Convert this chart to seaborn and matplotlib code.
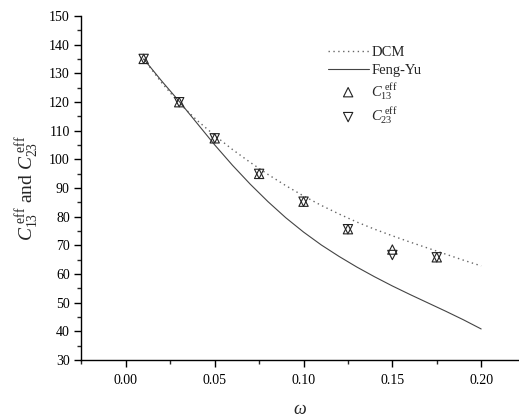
import numpy as np
import pandas as pd
import matplotlib
matplotlib.use("Agg")
import matplotlib.pyplot as plt
import seaborn as sns
from matplotlib.ticker import MultipleLocator

# ---- data ----
omega_curve = [0.01, 0.02, 0.03, 0.04, 0.05, 0.06, 0.07, 0.08, 0.09, 0.10,
               0.11, 0.12, 0.13, 0.14, 0.15, 0.16, 0.17, 0.18, 0.19, 0.20]
dcm = [135.0, 126.8, 119.6, 113.6, 108.3, 103.4, 98.9, 94.7, 90.8, 87.2,
       83.9, 80.9, 78.1, 75.6, 73.3, 71.1, 69.0, 66.9, 64.8, 62.8]
feng_yu = [135.0, 127.4, 120.2, 112.6, 105.0, 97.9, 91.3, 85.2, 79.6, 74.6,
           70.1, 66.1, 62.4, 59.0, 55.8, 52.8, 49.9, 47.0, 44.0, 40.8]

omega_pts = [0.01, 0.03, 0.05, 0.075, 0.10, 0.125, 0.15, 0.175]
c13 = [135.0, 119.9, 107.3, 94.9, 85.2, 75.6, 68.5, 65.8]
c23 = [135.0, 119.9, 107.3, 94.9, 85.2, 75.6, 66.6, 65.8]

x_ticks = [0.00, 0.05, 0.10, 0.15, 0.20]
y_ticks = [30, 40, 50, 60, 70, 80, 90, 100, 110, 120, 130, 140, 150]

sns.set_theme(style="ticks")
plt.rcParams["font.family"] = ["Liberation Serif", "DejaVu Serif"]
plt.rcParams["mathtext.fontset"] = "custom"
plt.rcParams["mathtext.rm"] = "Liberation Serif"
plt.rcParams["mathtext.it"] = "Liberation Serif:italic"
plt.rcParams["mathtext.bf"] = "Liberation Serif:bold"

fig = plt.figure(figsize=(5.19, 4.19), dpi=100)
ax = fig.add_axes([0.156, 0.141, 0.844, 0.821])

curves = pd.DataFrame({"omega": omega_curve, "DCM": dcm, "Feng-Yu": feng_yu})
pts = pd.DataFrame({"omega": omega_pts, "c13": c13, "c23": c23})

sns.lineplot(data=curves, x="omega", y="DCM", ax=ax, color="#666666",
             linestyle=(0, (1, 2.5)), linewidth=1.0, label="DCM")
sns.lineplot(data=curves, x="omega", y="Feng-Yu", ax=ax, color="#444444",
             linestyle="-", linewidth=0.8, label="Feng-Yu")
sns.scatterplot(data=pts, x="omega", y="c13", ax=ax, marker="^", s=45,
                facecolor="none", edgecolor="#222222", linewidth=0.8,
                label=r"$C_{13}^{\ \mathrm{eff}}$", zorder=5)
sns.scatterplot(data=pts, x="omega", y="c23", ax=ax, marker="v", s=45,
                facecolor="none", edgecolor="#222222", linewidth=0.8,
                label=r"$C_{23}^{\ \mathrm{eff}}$", zorder=5)

ax.set_xlim(-0.0253, 0.2213)
ax.set_ylim(30, 150)
ax.set_xticks(x_ticks)
ax.set_xticklabels([f"{t:.2f}" for t in x_ticks])
ax.set_yticks(y_ticks)
ax.xaxis.set_minor_locator(MultipleLocator(0.025))
ax.yaxis.set_minor_locator(MultipleLocator(5))
ax.tick_params(axis="both", which="major", direction="out", length=5,
               width=1.0, labelsize=10, colors="black", pad=3)
ax.tick_params(axis="x", which="major", pad=5)
ax.tick_params(axis="both", which="minor", direction="out", length=3, width=1.0)
for s in ["left", "bottom"]:
    ax.spines[s].set_linewidth(1.0)
    ax.spines[s].set_color("black")
sns.despine(ax=ax, top=True, right=True)

ax.set_xlabel(r"$\omega$", fontsize=13, labelpad=10)
ax.set_ylabel(r"$C_{13}^{\ \mathrm{eff}}$ and $C_{23}^{\ \mathrm{eff}}$",
              fontsize=14, labelpad=6)

leg = ax.legend(loc="upper left", bbox_to_anchor=(0.55, 0.93), frameon=False,
                fontsize=10.5, handlelength=2.8, handletextpad=0.2,
                labelspacing=0.3, borderaxespad=0)

fig.savefig("out.png", dpi=100)
